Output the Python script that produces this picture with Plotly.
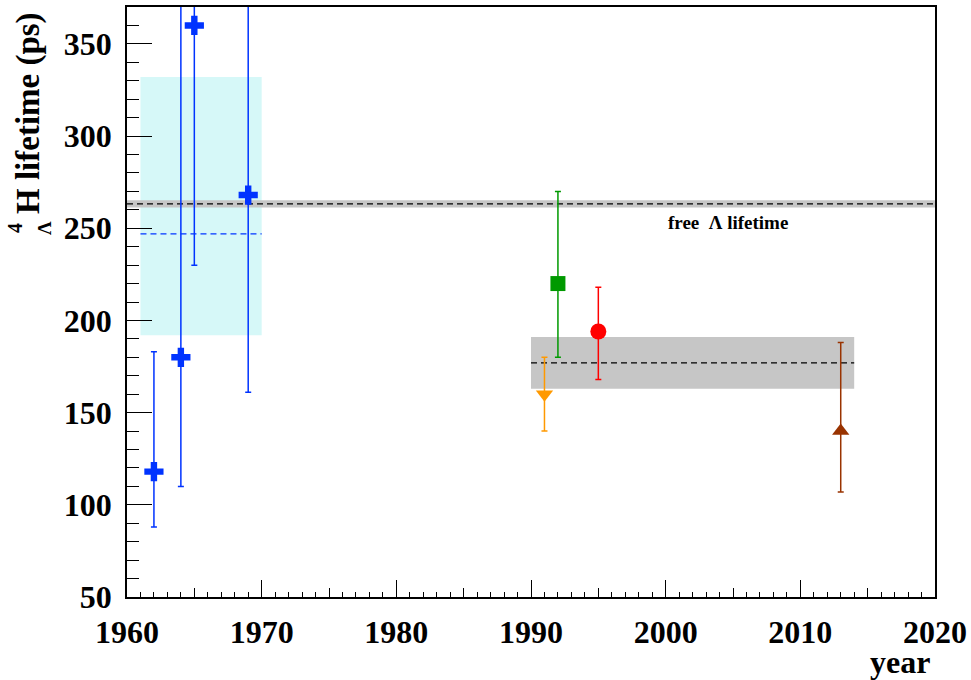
import plotly.graph_objects as go

# ---------------- data ----------------
blue_years = [1962, 1964, 1965, 1969]
blue_tau = [118, 180, 360, 268]
blue_err_up = [65, 250, 200, 170]
blue_err_dn = [30, 70, 130, 107]

green_year = [1992]; green_tau = [220]; green_up = [50]; green_dn = [40]
red_year = [1995]; red_tau = [194]; red_up = [24]; red_dn = [26]
orange_year = [1991]; orange_tau = [160]; orange_up = [20]; orange_dn = [20]
brown_year = [2013]; brown_tau = [140]; brown_up = [48]; brown_dn = [33]

early_avg_years = [1961, 1970]
early_avg_tau = 247
early_avg_band = [192, 332]

recent_avg_years = [1990, 2014]
recent_avg_tau = 177
recent_avg_band = [163, 191]

free_lambda_years = [1960, 2020]
free_lambda_tau = 263.2
free_lambda_err = 2.0

x_ticks = [1960, 1970, 1980, 1990, 2000, 2010, 2020]
x_mid_ticks = [1965, 1975, 1985, 1995, 2005, 2015]

FONT = "Liberation Serif"
BLUE = "#0033ff"

fig = go.Figure()

def band(xr, yr, color):
    fig.add_trace(go.Scatter(
        x=[xr[0], xr[1], xr[1], xr[0], xr[0]],
        y=[yr[0], yr[0], yr[1], yr[1], yr[0]],
        mode="lines", line=dict(width=0), fill="toself", fillcolor=color,
        hoverinfo="skip", showlegend=False))

band(early_avg_years, early_avg_band, "#d6f8f8")
band(recent_avg_years, recent_avg_band, "#c6c6c6")
band(free_lambda_years, [free_lambda_tau - free_lambda_err, free_lambda_tau + free_lambda_err], "#c6c6c6")

fig.add_trace(go.Scatter(x=early_avg_years, y=[early_avg_tau] * 2, mode="lines",
                         line=dict(color=BLUE, width=1.2, dash="6px,4px"), showlegend=False))
fig.add_trace(go.Scatter(x=recent_avg_years, y=[recent_avg_tau] * 2, mode="lines",
                         line=dict(color="black", width=1.2, dash="6px,4px"), showlegend=False))
fig.add_trace(go.Scatter(x=free_lambda_years, y=[free_lambda_tau] * 2, mode="lines",
                         line=dict(color="black", width=1.2, dash="6px,4px"), showlegend=False))

def points(x, y, up, dn, color, symbol, size):
    fig.add_trace(go.Scatter(
        x=x, y=y, mode="markers",
        marker=dict(color=color, symbol=symbol, size=size, line=dict(width=0)),
        error_y=dict(type="data", symmetric=False, array=up, arrayminus=dn,
                     color=color, thickness=1.5, width=3),
        showlegend=False))

points(blue_years, blue_tau, blue_err_up, blue_err_dn, BLUE, "cross", 16)
points(green_year, green_tau, green_up, green_dn, "#009900", "square", 15)
points(red_year, red_tau, red_up, red_dn, "#ff0000", "circle", 16)
points(orange_year, orange_tau, orange_up, orange_dn, "#ff9900", "triangle-down", 15)
points(brown_year, brown_tau, brown_up, brown_dn, "#993300", "triangle-up", 15)

# invisible trace on xaxis2 to activate it
fig.add_trace(go.Scatter(x=[1960], y=[50], xaxis="x2", mode="markers",
                         marker=dict(opacity=0), showlegend=False, hoverinfo="skip"))

tickfont = dict(family=FONT, size=32, color="black", weight="bold")

fig.update_layout(
    width=971, height=680, autosize=False,
    margin=dict(l=127, r=36, t=7, b=83),
    plot_bgcolor="white", paper_bgcolor="white",
    xaxis=dict(range=[1960, 2020], tickvals=x_ticks, ticks="inside", ticklen=17,
               tickwidth=1, tickcolor="black", showline=True, linecolor="black",
               linewidth=1.5, mirror=True, showgrid=False, zeroline=False,
               tickfont=tickfont, ticklabelstandoff=6, automargin=False,
               minor=dict(dtick=1, tick0=1960, ticks="inside", ticklen=5,
                          tickcolor="black", tickwidth=1, showgrid=False)),
    xaxis2=dict(range=[1960, 2020], overlaying="x", anchor="y", side="bottom",
                tickvals=x_mid_ticks, ticks="inside", ticklen=9, tickwidth=1,
                tickcolor="black", showticklabels=False, showline=False,
                showgrid=False, zeroline=False, automargin=False),
    yaxis=dict(range=[50, 370], tick0=50, dtick=50, ticks="inside", ticklen=25,
               tickwidth=1, tickcolor="black", showline=True, linecolor="black",
               linewidth=1.5, mirror=True, showgrid=False, zeroline=False,
               tickfont=tickfont, ticklabelstandoff=7, automargin=False,
               minor=dict(dtick=10, tick0=50, ticks="inside", ticklen=12,
                          tickcolor="black", tickwidth=1, showgrid=False)),
)

def px_x(px):
    return (px - 127) / 808

def px_y(py):
    return (597 - py) / 590

annots = [
    dict(text="H lifetime (ps)", x=px_x(29), y=px_y(216), xanchor="center", yanchor="bottom",
         textangle=-90, font=dict(family=FONT, size=33, color="black", weight="bold")),
    dict(text="4", x=px_x(15), y=px_y(228), xanchor="center", yanchor="middle",
         textangle=-90, font=dict(family=FONT, size=20, color="black", weight="bold")),
    dict(text="Λ", x=px_x(44), y=px_y(228), xanchor="center", yanchor="middle",
         textangle=-90, font=dict(family=FONT, size=19, color="black", weight="bold")),
    dict(text="year", x=px_x(932), y=px_y(662), xanchor="right", yanchor="middle",
         font=dict(family=FONT, size=32, color="black", weight="bold")),
]
for a in annots:
    fig.add_annotation(xref="paper", yref="paper", showarrow=False, **a)

fig.add_annotation(text="free  Λ lifetime", x=2004.6, y=253.3, xref="x", yref="y",
                   showarrow=False, xanchor="center", yanchor="middle",
                   font=dict(family=FONT, size=19, color="black", weight="bold"))

fig.write_html("out.html", config={"displayModeBar": False},
               post_script="document.body.style.margin='0';document.body.style.overflow='hidden';")
